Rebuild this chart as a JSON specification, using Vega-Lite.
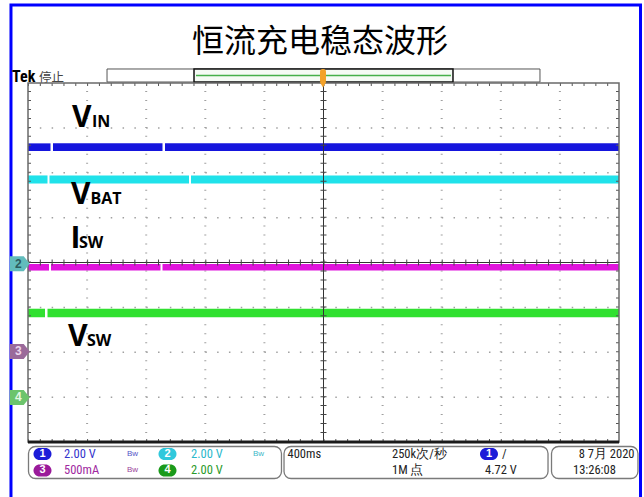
{
"$schema":"https://vega.github.io/schema/vega-lite/v6.json",
"width":591,"height":359,
"autosize":{"type":"none"},
"padding":{"left":28,"top":83,"right":25,"bottom":55},
"background":"#ffffff",
"config":{"view":{"stroke":null}},
"resolve":{"scale":{"color":"independent"}},
"datasets":{
 "frameBlue":[{"x":-0.288,"x2":10.364,"y":5.738,"y2":-5.738}],
 "recOuter":[{"x":1.337,"x2":8.663,"y":4.312,"y2":4.022}],
 "recInner":[{"x":2.809,"x2":7.191,"y":4.312,"y2":4.022}],
 "recLine":[{"x":2.843,"x2":7.157,"y":4.167}],
 "trig":[{"x":4.941,"x2":5.0423,"y":4.312,"y2":4.0,"xc":4.9915,"yp":3.965}],
 "gridX":[{"x":1},{"x":2},{"x":3},{"x":4},{"x":6},{"x":7},{"x":8},{"x":9}],
 "gridY":[{"y":-3},{"y":-2},{"y":-1},{"y":1},{"y":2},{"y":3}],
 "plot":[{"x":0,"x2":10,"y":-4,"y2":4}],
 "edgeV":[{"x":0.0254},{"x":9.9746}],
 "edgeH":[{"y":3.9666},{"y":-3.9666}],
 "traces":[
  {"ch":"1","x":0,"x2":0.3807,"y":2.655,"y2":2.4847},
  {"ch":"1","x":0.423,"x2":2.2758,"y":2.655,"y2":2.4847},
  {"ch":"1","x":2.318,"x2":10,"y":2.655,"y2":2.4847},
  {"ch":"2","x":0,"x2":0.33,"y":1.94,"y2":1.76},
  {"ch":"2","x":0.3638,"x2":2.7242,"y":1.94,"y2":1.76},
  {"ch":"2","x":2.758,"x2":10,"y":1.94,"y2":1.76},
  {"ch":"3","x":0,"x2":0.3553,"y":-0.0334,"y2":-0.18},
  {"ch":"3","x":0.3892,"x2":2.242,"y":-0.0334,"y2":-0.18},
  {"ch":"3","x":2.276,"x2":10,"y":-0.0334,"y2":-0.18},
  {"ch":"4","x":0,"x2":0.2876,"y":-1.03,"y2":-1.22},
  {"ch":"4","x":0.33,"x2":10,"y":-1.03,"y2":-1.22}
 ],
 "markers":[{"n":"2","ch":"2","x":-0.14,"y":-0.03},{"n":"3","ch":"3","x":-0.14,"y":-1.983},{"n":"4","ch":"4","x":-0.14,"y":-3.008}],
 "panels":[{"x":0.0085,"x2":4.289,"y":-4.0998,"y2":-4.8134},{"x":4.332,"x2":8.799,"y":-4.0998,"y2":-4.8134},{"x":8.858,"x2":10.321,"y":-4.0998,"y2":-4.8134}],
 "badges":[{"n":"1","ch":"1","x":0.2453,"y":-4.2674},{"n":"3","ch":"3","x":0.2453,"y":-4.635},{"n":"2","ch":"2","x":2.3604,"y":-4.2674},{"n":"4","ch":"4","x":2.3604,"y":-4.635},{"n":"1","ch":"1","x":7.8,"y":-4.2674}],
 "txt":[
  {"g":"title","t":"恒流充电稳态波形","x":4.941,"y":4.914},
  {"g":"tek","t":"Tek","x":-0.2707,"y":4.022},
  {"g":"stop","t":"停止","x":0.186,"y":4.022},
  {"g":"big","t":"V","x":0.7445,"y":3.0128},
  {"g":"big","t":"V","x":0.7276,"y":1.3036},
  {"g":"big","t":"I","x":0.7191,"y":0.312},
  {"g":"big","t":"V","x":0.6768,"y":-1.8496},
  {"g":"sub","t":"IN","x":1.0829,"y":3.0128},
  {"g":"sub","t":"BAT","x":1.0575,"y":1.3036},
  {"g":"sub","t":"SW","x":0.863,"y":0.312},
  {"g":"sub","t":"SW","x":0.9983,"y":-1.8496},
  {"g":"ch","ch":"1","t":"2.00 V","x":0.6091,"y":-4.2674},
  {"g":"ch","ch":"3","t":"500mA","x":0.6091,"y":-4.635},
  {"g":"ch","ch":"2","t":"2.00 V","x":2.758,"y":-4.2674},
  {"g":"ch","ch":"4","t":"2.00 V","x":2.758,"y":-4.635},
  {"g":"bw","ch":"1","t":"Bw","x":1.675,"y":-4.2674},
  {"g":"bw","ch":"3","t":"Bw","x":1.675,"y":-4.635},
  {"g":"bw","ch":"2","t":"Bw","x":3.807,"y":-4.2674},
  {"g":"info","t":"400ms","x":4.391,"y":-4.2674},
  {"g":"info","t":"250k次/秒","x":6.159,"y":-4.2674},
  {"g":"info","t":"1M 点","x":6.159,"y":-4.635},
  {"g":"info","t":"/","x":8.02,"y":-4.2674},
  {"g":"info","t":"4.72 V","x":7.733,"y":-4.635},
  {"g":"info","t":"13:26:08","x":9.222,"y":-4.635},
  {"g":"date","t":"8 7月 2020","x":10.262,"y":-4.2674}
 ]
},
"layer":[
 {"data":{"name":"frameBlue"},"mark":{"type":"rect","filled":false,"stroke":"#0000ff","strokeWidth":3},
  "encoding":{"x":{"field":"x","type":"quantitative","scale":{"domain":[0,10],"nice":false,"zero":false},"axis":null},"x2":{"field":"x2"},
   "y":{"field":"y","type":"quantitative","scale":{"domain":[-4,4],"nice":false,"zero":false},"axis":null},"y2":{"field":"y2"}}},
 {"data":{"name":"txt"},"transform":[{"filter":"datum.g==='title'"}],
  "mark":{"type":"text","font":"Noto Sans CJK SC","fontSize":32,"align":"center","baseline":"middle","color":"#000000"},
  "encoding":{"x":{"field":"x","type":"quantitative","scale":{"domain":[0,10],"nice":false,"zero":false},"axis":null},
   "y":{"field":"y","type":"quantitative","scale":{"domain":[-4,4],"nice":false,"zero":false},"axis":null},"text":{"field":"t"}}},
 {"data":{"name":"txt"},"transform":[{"filter":"datum.g==='tek'"}],
  "mark":{"type":"text","font":"Liberation Sans Narrow, Roboto Condensed, Liberation Sans","fontWeight":"bold","fontSize":16,"align":"left","baseline":"alphabetic","color":"#000000"},
  "encoding":{"x":{"field":"x","type":"quantitative","scale":{"domain":[0,10],"nice":false,"zero":false},"axis":null},
   "y":{"field":"y","type":"quantitative","scale":{"domain":[-4,4],"nice":false,"zero":false},"axis":null},"text":{"field":"t"}}},
 {"data":{"name":"txt"},"transform":[{"filter":"datum.g==='stop'"}],
  "mark":{"type":"text","font":"Noto Sans CJK SC","fontSize":12.5,"align":"left","baseline":"alphabetic","color":"#444444"},
  "encoding":{"x":{"field":"x","type":"quantitative","scale":{"domain":[0,10],"nice":false,"zero":false},"axis":null},
   "y":{"field":"y","type":"quantitative","scale":{"domain":[-4,4],"nice":false,"zero":false},"axis":null},"text":{"field":"t"}}},
 {"data":{"name":"recOuter"},"mark":{"type":"rect","fill":"#ffffff","stroke":"#555555","strokeWidth":1},
  "encoding":{"x":{"field":"x","type":"quantitative","scale":{"domain":[0,10],"nice":false,"zero":false},"axis":null},"x2":{"field":"x2"},
   "y":{"field":"y","type":"quantitative","scale":{"domain":[-4,4],"nice":false,"zero":false},"axis":null},"y2":{"field":"y2"}}},
 {"data":{"name":"recInner"},"mark":{"type":"rect","fill":"#f5fbf5","stroke":"#111111","strokeWidth":1.5},
  "encoding":{"x":{"field":"x","type":"quantitative","scale":{"domain":[0,10],"nice":false,"zero":false},"axis":null},"x2":{"field":"x2"},
   "y":{"field":"y","type":"quantitative","scale":{"domain":[-4,4],"nice":false,"zero":false},"axis":null},"y2":{"field":"y2"}}},
 {"data":{"name":"recLine"},"mark":{"type":"rule","color":"#46b04a","strokeWidth":1.5},
  "encoding":{"x":{"field":"x","type":"quantitative","scale":{"domain":[0,10],"nice":false,"zero":false},"axis":null},"x2":{"field":"x2"},
   "y":{"field":"y","type":"quantitative","scale":{"domain":[-4,4],"nice":false,"zero":false},"axis":null}}},
 {"data":{"name":"gridX"},"mark":{"type":"rule","color":"#a0a0a0","strokeWidth":2,"strokeDash":[1,7.975]},
  "encoding":{"x":{"field":"x","type":"quantitative","scale":{"domain":[0,10],"nice":false,"zero":false},"axis":null},
   "y":{"datum":-4,"type":"quantitative","scale":{"domain":[-4,4],"nice":false,"zero":false},"axis":null},"y2":{"datum":4}}},
 {"data":{"name":"gridY"},"mark":{"type":"rule","color":"#a0a0a0","strokeWidth":1.5,"strokeDash":[1.5,10.32]},
  "encoding":{"y":{"field":"y","type":"quantitative","scale":{"domain":[-4,4],"nice":false,"zero":false},"axis":null},
   "x":{"datum":0,"type":"quantitative","scale":{"domain":[0,10],"nice":false,"zero":false},"axis":null},"x2":{"datum":10}}},
 {"data":{"name":"traces"},"mark":{"type":"rect"},
  "encoding":{"x":{"field":"x","type":"quantitative","scale":{"domain":[0,10],"nice":false,"zero":false},"axis":null},"x2":{"field":"x2"},
   "y":{"field":"y","type":"quantitative","scale":{"domain":[-4,4],"nice":false,"zero":false},"axis":null},"y2":{"field":"y2"},
   "color":{"field":"ch","type":"nominal","scale":{"domain":["1","2","3","4"],"range":["#1515dd","#20e2ea","#e014dc","#30e030"]},"legend":null}}},
 {"data":{"values":[{}]},"mark":{"type":"rule","color":"#333333","strokeWidth":1},
  "encoding":{"x":{"datum":5,"type":"quantitative","scale":{"domain":[0,10],"nice":false,"zero":false},"axis":null},
   "y":{"datum":-4,"type":"quantitative","scale":{"domain":[-4,4],"nice":false,"zero":false},"axis":null},"y2":{"datum":4}}},
 {"data":{"values":[{}]},"mark":{"type":"rule","color":"#333333","strokeWidth":1},
  "encoding":{"y":{"datum":0,"type":"quantitative","scale":{"domain":[-4,4],"nice":false,"zero":false},"axis":null},
   "x":{"datum":0,"type":"quantitative","scale":{"domain":[0,10],"nice":false,"zero":false},"axis":null},"x2":{"datum":10}}},
 {"data":{"values":[{}]},"mark":{"type":"rule","color":"#444444","strokeWidth":6,"strokeDash":[1,7.975]},
  "encoding":{"x":{"datum":5,"type":"quantitative","scale":{"domain":[0,10],"nice":false,"zero":false},"axis":null},
   "y":{"datum":-4,"type":"quantitative","scale":{"domain":[-4,4],"nice":false,"zero":false},"axis":null},"y2":{"datum":4}}},
 {"data":{"values":[{}]},"mark":{"type":"rule","color":"#444444","strokeWidth":6,"strokeDash":[1,10.82]},
  "encoding":{"y":{"datum":0,"type":"quantitative","scale":{"domain":[-4,4],"nice":false,"zero":false},"axis":null},
   "x":{"datum":0,"type":"quantitative","scale":{"domain":[0,10],"nice":false,"zero":false},"axis":null},"x2":{"datum":10}}},
 {"data":{"name":"edgeV"},"mark":{"type":"rule","color":"#555555","strokeWidth":3,"strokeDash":[1,7.975]},
  "encoding":{"x":{"field":"x","type":"quantitative","scale":{"domain":[0,10],"nice":false,"zero":false},"axis":null},
   "y":{"datum":-4,"type":"quantitative","scale":{"domain":[-4,4],"nice":false,"zero":false},"axis":null},"y2":{"datum":4}}},
 {"data":{"name":"edgeH"},"mark":{"type":"rule","color":"#555555","strokeWidth":3,"strokeDash":[1,10.82]},
  "encoding":{"y":{"field":"y","type":"quantitative","scale":{"domain":[-4,4],"nice":false,"zero":false},"axis":null},
   "x":{"datum":0,"type":"quantitative","scale":{"domain":[0,10],"nice":false,"zero":false},"axis":null},"x2":{"datum":10}}},
 {"data":{"name":"plot"},"mark":{"type":"rect","filled":false,"stroke":"#6a6a6a","strokeWidth":1.5},
  "encoding":{"x":{"field":"x","type":"quantitative","scale":{"domain":[0,10],"nice":false,"zero":false},"axis":null},"x2":{"field":"x2"},
   "y":{"field":"y","type":"quantitative","scale":{"domain":[-4,4],"nice":false,"zero":false},"axis":null},"y2":{"field":"y2"}}},
 {"data":{"values":[{}]},"mark":{"type":"rule","color":"#1a1a1a","strokeWidth":3},
  "encoding":{"y":{"datum":-4,"type":"quantitative","scale":{"domain":[-4,4],"nice":false,"zero":false},"axis":null},
   "x":{"datum":0,"type":"quantitative","scale":{"domain":[0,10],"nice":false,"zero":false},"axis":null},"x2":{"datum":10}}},
 {"data":{"name":"trig"},"mark":{"type":"rect","color":"#f3a22a","cornerRadius":2.5},
  "encoding":{"x":{"field":"x","type":"quantitative","scale":{"domain":[0,10],"nice":false,"zero":false},"axis":null},"x2":{"field":"x2"},
   "y":{"field":"y","type":"quantitative","scale":{"domain":[-4,4],"nice":false,"zero":false},"axis":null},"y2":{"field":"y2"}}},
 {"data":{"name":"trig"},"mark":{"type":"point","shape":"triangle-down","filled":true,"size":45,"color":"#f3a22a","opacity":1},
  "encoding":{"x":{"field":"xc","type":"quantitative","scale":{"domain":[0,10],"nice":false,"zero":false},"axis":null},
   "y":{"field":"yp","type":"quantitative","scale":{"domain":[-4,4],"nice":false,"zero":false},"axis":null}}},
 {"data":{"name":"txt"},"transform":[{"filter":"datum.g==='big'"}],
  "mark":{"type":"text","font":"Open Sans","fontWeight":"bold","fontSize":30,"align":"left","baseline":"alphabetic","color":"#000000"},
  "encoding":{"x":{"field":"x","type":"quantitative","scale":{"domain":[0,10],"nice":false,"zero":false},"axis":null},
   "y":{"field":"y","type":"quantitative","scale":{"domain":[-4,4],"nice":false,"zero":false},"axis":null},"text":{"field":"t"}}},
 {"data":{"name":"txt"},"transform":[{"filter":"datum.g==='sub'"}],
  "mark":{"type":"text","font":"Open Sans","fontWeight":"bold","fontSize":16,"align":"left","baseline":"alphabetic","color":"#000000"},
  "encoding":{"x":{"field":"x","type":"quantitative","scale":{"domain":[0,10],"nice":false,"zero":false},"axis":null},
   "y":{"field":"y","type":"quantitative","scale":{"domain":[-4,4],"nice":false,"zero":false},"axis":null},"text":{"field":"t"}}},
 {"data":{"name":"markers"},"mark":{"type":"point","shape":"M-1,-0.75L0.4,-0.75L1,0L0.4,0.75L-1,0.75Z","filled":true,"size":400,"opacity":1},
  "encoding":{"x":{"field":"x","type":"quantitative","scale":{"domain":[0,10],"nice":false,"zero":false},"axis":null},
   "y":{"field":"y","type":"quantitative","scale":{"domain":[-4,4],"nice":false,"zero":false},"axis":null},
   "color":{"field":"ch","type":"nominal","scale":{"domain":["2","3","4"],"range":["#62bcbc","#9a6a9a","#6cc46c"]},"legend":null}}},
 {"data":{"name":"markers"},"mark":{"type":"text","font":"Liberation Sans","fontWeight":"bold","fontSize":12,"align":"center","baseline":"middle","dx":-1.5},
  "encoding":{"x":{"field":"x","type":"quantitative","scale":{"domain":[0,10],"nice":false,"zero":false},"axis":null},
   "y":{"field":"y","type":"quantitative","scale":{"domain":[-4,4],"nice":false,"zero":false},"axis":null},"text":{"field":"n"},
   "color":{"field":"ch","type":"nominal","scale":{"domain":["2","3","4"],"range":["#2d5d5d","#ecd8ec","#e6f8e6"]},"legend":null}}},
 {"data":{"name":"panels"},"mark":{"type":"rect","fill":"#ffffff","stroke":"#7a7a7a","strokeWidth":1.3,"cornerRadius":7},
  "encoding":{"x":{"field":"x","type":"quantitative","scale":{"domain":[0,10],"nice":false,"zero":false},"axis":null},"x2":{"field":"x2"},
   "y":{"field":"y","type":"quantitative","scale":{"domain":[-4,4],"nice":false,"zero":false},"axis":null},"y2":{"field":"y2"}}},
 {"data":{"name":"badges"},"mark":{"type":"point","shape":"M-0.33,-0.67L0.33,-0.67A0.67,0.67 0 0 1 0.33,0.67L-0.33,0.67A0.67,0.67 0 0 1 -0.33,-0.67Z","filled":true,"size":324,"opacity":1},
  "encoding":{"x":{"field":"x","type":"quantitative","scale":{"domain":[0,10],"nice":false,"zero":false},"axis":null},
   "y":{"field":"y","type":"quantitative","scale":{"domain":[-4,4],"nice":false,"zero":false},"axis":null},
   "color":{"field":"ch","type":"nominal","scale":{"domain":["1","2","3","4"],"range":["#1c1cd8","#30c8dc","#9a1a9a","#1a9a1a"]},"legend":null}}},
 {"data":{"name":"badges"},"mark":{"type":"text","font":"Liberation Sans","fontWeight":"bold","fontSize":11,"align":"center","baseline":"middle","color":"#ffffff"},
  "encoding":{"x":{"field":"x","type":"quantitative","scale":{"domain":[0,10],"nice":false,"zero":false},"axis":null},
   "y":{"field":"y","type":"quantitative","scale":{"domain":[-4,4],"nice":false,"zero":false},"axis":null},"text":{"field":"n"}}},
 {"data":{"name":"txt"},"transform":[{"filter":"datum.g==='ch'"}],
  "mark":{"type":"text","font":"Liberation Sans Narrow, Roboto Condensed, Liberation Sans","fontSize":12.5,"align":"left","baseline":"middle"},
  "encoding":{"x":{"field":"x","type":"quantitative","scale":{"domain":[0,10],"nice":false,"zero":false},"axis":null},
   "y":{"field":"y","type":"quantitative","scale":{"domain":[-4,4],"nice":false,"zero":false},"axis":null},"text":{"field":"t"},
   "color":{"field":"ch","type":"nominal","scale":{"domain":["1","2","3","4"],"range":["#3333cc","#2ab8cc","#a028a0","#2a9a2a"]},"legend":null}}},
 {"data":{"name":"txt"},"transform":[{"filter":"datum.g==='bw'"}],
  "mark":{"type":"text","font":"Liberation Sans","fontSize":8,"align":"left","baseline":"middle"},
  "encoding":{"x":{"field":"x","type":"quantitative","scale":{"domain":[0,10],"nice":false,"zero":false},"axis":null},
   "y":{"field":"y","type":"quantitative","scale":{"domain":[-4,4],"nice":false,"zero":false},"axis":null},"text":{"field":"t"},
   "color":{"field":"ch","type":"nominal","scale":{"domain":["1","2","3","4"],"range":["#5555c8","#40b8c8","#9a449a","#449a44"]},"legend":null}}},
 {"data":{"name":"txt"},"transform":[{"filter":"datum.g==='info'"}],
  "mark":{"type":"text","font":"Liberation Sans Narrow, Roboto Condensed, Liberation Sans","fontSize":12.5,"align":"left","baseline":"middle","color":"#222222"},
  "encoding":{"x":{"field":"x","type":"quantitative","scale":{"domain":[0,10],"nice":false,"zero":false},"axis":null},
   "y":{"field":"y","type":"quantitative","scale":{"domain":[-4,4],"nice":false,"zero":false},"axis":null},"text":{"field":"t"}}},
 {"data":{"name":"txt"},"transform":[{"filter":"datum.g==='date'"}],
  "mark":{"type":"text","font":"Liberation Sans Narrow, Roboto Condensed, Liberation Sans","fontSize":12.5,"align":"right","baseline":"middle","color":"#222222"},
  "encoding":{"x":{"field":"x","type":"quantitative","scale":{"domain":[0,10],"nice":false,"zero":false},"axis":null},
   "y":{"field":"y","type":"quantitative","scale":{"domain":[-4,4],"nice":false,"zero":false},"axis":null},"text":{"field":"t"}}}
]
}
